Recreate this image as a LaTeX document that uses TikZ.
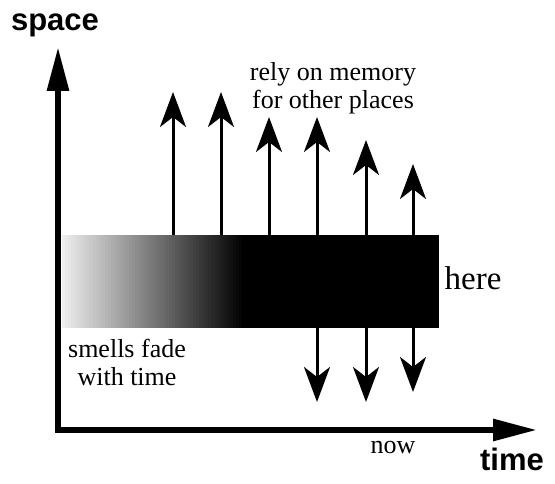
\documentclass[tikz,border=0pt]{standalone}
\usepackage{fontspec}
\setmainfont{Liberation Serif}
\setsansfont{Liberation Sans}
\usetikzlibrary{arrows.meta}

\begin{document}
\begin{tikzpicture}[
x=1pt,y=-1pt,
every node/.style={font=\fontsize{26}{28}\selectfont,align=center,inner sep=0pt},
axislabel/.style={font=\fontsize{31}{34}\selectfont\sffamily\bfseries},
axis/.style={-{Triangle[length=44pt,width=21pt]},line width=6pt,line cap=rect},
arr/.style={-{Stealth[length=35pt,width=26pt,inset=10pt]},line width=3pt}
]
\useasboundingbox (0,0) rectangle (555,484);

% axes
\coordinate (origin) at (58,430);
\coordinate (top) at (58,47);
\coordinate (right) at (537,430);
\draw[axis] (origin) -- (top);
\draw[axis] (origin) -- (right);
\node[axislabel,anchor=base] (space) at (55,31) {space};
\node[axislabel,anchor=base] (time) at (512,470) {time};
\node[anchor=base] (now) at (393,453) {now};

% the smell band: fading strips, then solid part
\path node[minimum width=377pt,minimum height=93pt,anchor=north west] (band) at (62,235) {};
\fill[black] ([xshift=180pt]band.north west) rectangle (band.south east);
\foreach \k in {0,...,59}{
  \pgfmathsetmacro\c{7+93*\k/59}
  \fill[black!\c] ([xshift=\k*3.05pt]band.north west) rectangle ([xshift=\k*3.05pt+3.6pt]band.south west);
}
\node[font=\fontsize{33}{36}\selectfont,anchor=base] (here) at (473,290) {here};

% memory arrows
\foreach \x/\y [count=\i] in {173/92,221/92,269/117,317/117,366/140,413/164}
  \coordinate (up\i) at (\x,\y);
\foreach \x/\y [count=\i] in {317/402,366/402,413/392}
  \coordinate (dn\i) at (\x,\y);
\foreach \i in {1,...,6}
  \draw[arr] (up\i |- band.north) -- (up\i);
\foreach \i in {1,...,3}
  \draw[arr] (dn\i |- band.south) -- (dn\i);

\node[anchor=base] (memory) at (333,109) {rely on memory\\for other places};
\node[anchor=base] (fade) at (127,385) {smells fade\\with time};
\end{tikzpicture}
\end{document}
